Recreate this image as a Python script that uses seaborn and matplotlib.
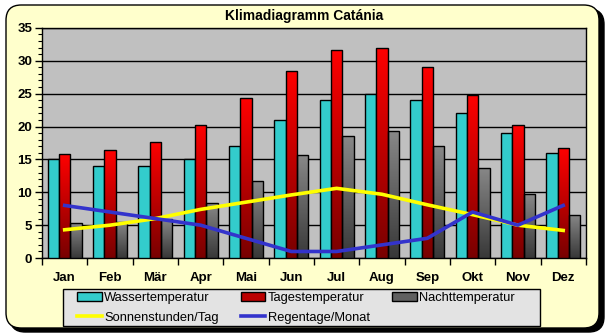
import numpy as np
import pandas as pd
import seaborn as sns
import matplotlib
matplotlib.use("Agg")
import matplotlib.pyplot as plt
from matplotlib.colors import LinearSegmentedColormap
from matplotlib.patches import FancyBboxPatch, Patch, Rectangle
from matplotlib.lines import Line2D
from matplotlib.ticker import MultipleLocator

months = ['Jan', 'Feb', 'Mär', 'Apr', 'Mai', 'Jun', 'Jul', 'Aug', 'Sep', 'Okt', 'Nov', 'Dez']
wasser = [15, 14, 14, 15, 17, 21, 24, 25, 24, 22, 19, 16]
tages = [15.8, 16.4, 17.7, 20.3, 24.3, 28.4, 31.7, 32.0, 29.1, 24.8, 20.3, 16.8]
nacht = [5.3, 5.5, 6.0, 8.3, 11.7, 15.6, 18.5, 19.3, 17.1, 13.7, 9.7, 6.6]
sonne = [4.3, 5.0, 6.0, 7.4, 8.5, 9.6, 10.6, 9.7, 8.1, 6.6, 5.0, 4.2]
regen = [8, 7, 6, 5, 3, 1, 1, 2, 3, 7, 5, 8]
series = ['Wassertemperatur', 'Tagestemperatur', 'Nachttemperatur']
title = 'Klimadiagramm Catánia'

df = pd.DataFrame({
    'Monat': months * 3,
    'Wert': wasser + tages + nacht,
    'Serie': [series[0]] * 12 + [series[1]] * 12 + [series[2]] * 12,
})

plt.rcParams['font.family'] = ['Liberation Sans', 'DejaVu Sans']

W, H = 609, 336
fig = plt.figure(figsize=(6.09, 3.36), dpi=100)
fig.patch.set_facecolor('white')

# outer rounded frame with shadow
asp = W / H
shadow = FancyBboxPatch((10 / W, (H - 332) / H), 594 / W, 323 / H,
                        boxstyle="round,pad=0,rounding_size=0.025", mutation_aspect=asp,
                        transform=fig.transFigure, facecolor='black', edgecolor='black', zorder=-2)
frame = FancyBboxPatch((6 / W, (H - 328) / H), 593 / W, 323 / H,
                       boxstyle="round,pad=0,rounding_size=0.025", mutation_aspect=asp,
                       transform=fig.transFigure, facecolor='#FFFFCC', edgecolor='black',
                       linewidth=1.0, zorder=-1)
fig.patches.extend([shadow, frame])

ax = fig.add_axes([0.069, 0.232, 0.893, 0.685])
ax.set_facecolor('#C0C0C0')

cyan = '#33CCCC'
sns.barplot(data=df, x='Monat', y='Wert', hue='Serie', hue_order=series,
            palette=[cyan, '#FF0000', '#808080'], width=0.75, edgecolor='black',
            linewidth=1.0, saturation=1, legend=False, ax=ax, zorder=3)

red_cmap = LinearSegmentedColormap.from_list('r', ['#780000', '#FF0000'])
gray_cmap = LinearSegmentedColormap.from_list('g', ['#383838', '#888888'])
grad = np.linspace(0, 1, 256).reshape(-1, 1)
for cont, cmap in zip(ax.containers[1:], [red_cmap, gray_cmap]):
    for p in cont.patches:
        x0, y0 = p.get_x(), p.get_y()
        w, h = p.get_width(), p.get_height()
        im = ax.imshow(grad, extent=[x0, x0 + w, y0, y0 + h], origin='lower',
                       aspect='auto', cmap=cmap, zorder=3.1)
        im.set_clip_path(p)
        p.set_facecolor('none')
        p.set_zorder(3.2)

xpos = np.arange(len(months))
sns.lineplot(x=xpos, y=sonne, color='#FFFF00', linewidth=2.6, ax=ax, zorder=5)
sns.lineplot(x=xpos, y=regen, color='#3333CC', linewidth=2.6, ax=ax, zorder=6)

ax.set_xlim(-0.5, 11.5)
ax.set_ylim(0, 35)
ax.set_yticks(np.arange(0, 36, 5))
ax.yaxis.set_minor_locator(MultipleLocator(1))
ax.grid(axis='y', which='major', color='black', linewidth=1.0, zorder=1)
ax.set_axisbelow(True)
ax.set_xticks(xpos)
ax.set_xticklabels(months)
ax.set_xticks(np.arange(-0.5, 12, 1), minor=True)
ax.tick_params(axis='x', which='major', length=0, pad=10, labelsize=9.5)
ax.tick_params(axis='x', which='minor', length=5, width=1, direction='out')
ax.tick_params(axis='y', which='major', length=5, width=1, labelsize=9.5, pad=2)
ax.tick_params(axis='y', which='minor', length=3, width=0.8)
for lab in ax.get_xticklabels() + ax.get_yticklabels():
    lab.set_fontweight('bold')
ax.set_xlabel('')
ax.set_ylabel('')
for s in ax.spines.values():
    s.set_color('black')
    s.set_linewidth(1.0)

fig.text(0.5, 0.952, title, ha='center', va='center', fontsize=10, fontweight='bold')

# legend box
legbox = Rectangle((63 / W, (H - 326) / H), 477 / W, 37 / H, transform=fig.transFigure,
                   facecolor='#E3E3E3', edgecolor='black', linewidth=1.0, zorder=1)
fig.patches.append(legbox)

handles = [
    Patch(facecolor=cyan, edgecolor='black', label=series[0]),
    Line2D([], [], color='#FFFF00', linewidth=2.6, label='Sonnenstunden/Tag'),
    Patch(facecolor='#BB0000', edgecolor='black', label=series[1]),
    Line2D([], [], color='#3333CC', linewidth=2.6, label='Regentage/Monat'),
    Patch(facecolor='#606060', edgecolor='black', label=series[2]),
]
leg = fig.legend(handles=handles, ncol=3, loc='upper left',
                 bbox_to_anchor=(77 / W, 0, 438 / W, (H - 292) / H), mode='expand',
                 frameon=False, fontsize=9.3, handlelength=1.9,
                 handleheight=0.6, handletextpad=0.2, borderpad=0,
                 labelspacing=0.6, columnspacing=1.0, borderaxespad=0)
leg.set_zorder(2)

fig.savefig('out.png', dpi=100)
